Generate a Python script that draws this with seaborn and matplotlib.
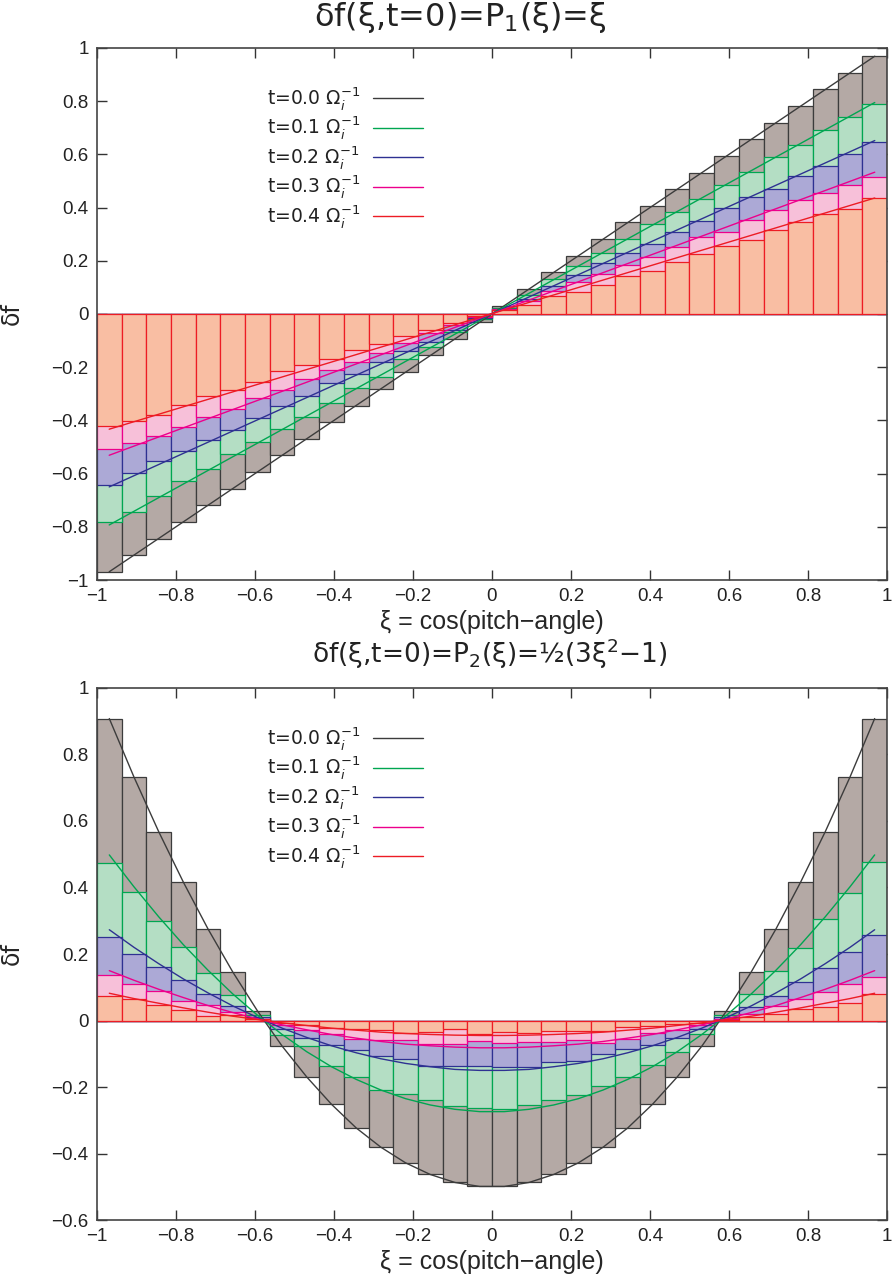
import numpy as np
import matplotlib.pyplot as plt
from matplotlib.ticker import FuncFormatter
import seaborn as sns

# 32 pitch-angle bins on [-1, 1]
n_bins = 32
bin_edges = np.linspace(-1, 1, n_bins + 1)
xi = (bin_edges[:-1] + bin_edges[1:]) / 2

times = ['0.0', '0.1', '0.2', '0.3', '0.4']

# --- panel 1 : delta f(xi, t=0) = P1(xi), histogram values
p1_t0 = [-0.969, -0.906, -0.844, -0.781, -0.719, -0.656, -0.594, -0.531,
         -0.469, -0.406, -0.344, -0.281, -0.219, -0.156, -0.094, -0.031,
         0.031, 0.094, 0.156, 0.219, 0.281, 0.344, 0.406, 0.469,
         0.531, 0.594, 0.656, 0.719, 0.781, 0.844, 0.906, 0.969]
p1_t1 = [-0.783, -0.744, -0.686, -0.627, -0.582, -0.526, -0.480, -0.432,
         -0.387, -0.333, -0.279, -0.236, -0.171, -0.123, -0.069, -0.020,
         0.024, 0.070, 0.131, 0.180, 0.231, 0.281, 0.337, 0.383,
         0.431, 0.485, 0.533, 0.589, 0.634, 0.692, 0.739, 0.790]
p1_t2 = [-0.642, -0.598, -0.552, -0.515, -0.472, -0.435, -0.392, -0.344,
         -0.307, -0.261, -0.226, -0.182, -0.138, -0.104, -0.060, -0.015,
         0.020, 0.058, 0.106, 0.146, 0.193, 0.231, 0.263, 0.307,
         0.350, 0.398, 0.440, 0.471, 0.518, 0.557, 0.601, 0.646]
p1_t3 = [-0.509, -0.485, -0.460, -0.426, -0.389, -0.359, -0.315, -0.284,
         -0.246, -0.211, -0.180, -0.148, -0.108, -0.073, -0.041, -0.010,
         0.018, 0.049, 0.088, 0.119, 0.150, 0.185, 0.214, 0.251,
         0.289, 0.310, 0.354, 0.391, 0.428, 0.455, 0.485, 0.515]
p1_t4 = [-0.421, -0.401, -0.379, -0.343, -0.307, -0.284, -0.254, -0.215,
         -0.193, -0.170, -0.136, -0.111, -0.083, -0.060, -0.033, -0.008,
         0.015, 0.033, 0.068, 0.084, 0.109, 0.143, 0.161, 0.195,
         0.225, 0.255, 0.279, 0.317, 0.347, 0.376, 0.394, 0.436]
# analytic lines (straight), end values at first / last bin centre
p1_line_x = [-0.969, 0.969]
p1_lines = [[-0.969, 0.969], [-0.793, 0.795], [-0.650, 0.652],
            [-0.531, 0.533], [-0.433, 0.436]]

# --- panel 2 : delta f(xi, t=0) = P2(xi)
p2_t0 = [0.908, 0.732, 0.568, 0.416, 0.275, 0.146, 0.029, -0.077,
         -0.170, -0.252, -0.323, -0.381, -0.428, -0.463, -0.487, -0.499,
         -0.499, -0.487, -0.463, -0.428, -0.381, -0.323, -0.252, -0.170,
         -0.077, 0.029, 0.146, 0.275, 0.416, 0.568, 0.732, 0.908]
p2_t1 = [0.474, 0.386, 0.300, 0.220, 0.143, 0.076, 0.016, -0.045,
         -0.077, -0.138, -0.170, -0.210, -0.221, -0.240, -0.256, -0.263,
         -0.265, -0.254, -0.240, -0.223, -0.198, -0.170, -0.135, -0.094,
         -0.042, 0.018, 0.080, 0.149, 0.219, 0.304, 0.382, 0.477]
p2_t2 = [0.251, 0.200, 0.162, 0.121, 0.079, 0.044, 0.010, -0.025,
         -0.052, -0.075, -0.088, -0.108, -0.115, -0.136, -0.136, -0.138,
         -0.140, -0.140, -0.125, -0.123, -0.100, -0.086, -0.073, -0.053,
         -0.025, 0.010, 0.040, 0.075, 0.115, 0.157, 0.205, 0.257]
p2_t3 = [0.137, 0.110, 0.089, 0.060, 0.046, 0.027, 0.006, -0.012,
         -0.028, -0.040, -0.056, -0.058, -0.060, -0.070, -0.072, -0.063,
         -0.068, -0.066, -0.066, -0.058, -0.068, -0.056, -0.038, -0.030,
         -0.013, 0.006, 0.020, 0.045, 0.066, 0.087, 0.109, 0.132]
p2_t4 = [0.074, 0.064, 0.046, 0.032, 0.014, 0.017, 0.004, -0.006,
         -0.012, -0.023, -0.025, -0.028, -0.038, -0.035, -0.025, -0.041,
         -0.035, -0.038, -0.031, -0.033, -0.033, -0.020, -0.016, -0.011,
         -0.006, 0.003, 0.012, 0.019, 0.035, 0.042, 0.054, 0.079]
# analytic curves at bin centres
p2_line_t0 = [0.908, 0.732, 0.568, 0.416, 0.275, 0.146, 0.029, -0.077,
              -0.170, -0.252, -0.323, -0.381, -0.428, -0.463, -0.487, -0.499,
              -0.499, -0.487, -0.463, -0.428, -0.381, -0.323, -0.252, -0.170,
              -0.077, 0.029, 0.146, 0.275, 0.416, 0.568, 0.732, 0.908]
p2_line_t1 = [0.498, 0.402, 0.312, 0.228, 0.151, 0.080, 0.016, -0.042,
              -0.094, -0.139, -0.177, -0.209, -0.235, -0.254, -0.267, -0.274,
              -0.274, -0.267, -0.254, -0.235, -0.209, -0.177, -0.139, -0.094,
              -0.042, 0.016, 0.080, 0.151, 0.228, 0.312, 0.402, 0.498]
p2_line_t2 = [0.273, 0.220, 0.171, 0.125, 0.083, 0.044, 0.009, -0.023,
              -0.051, -0.076, -0.097, -0.115, -0.129, -0.139, -0.147, -0.150,
              -0.150, -0.147, -0.139, -0.129, -0.115, -0.097, -0.076, -0.051,
              -0.023, 0.009, 0.044, 0.083, 0.125, 0.171, 0.220, 0.273]
p2_line_t3 = [0.150, 0.121, 0.094, 0.069, 0.045, 0.024, 0.005, -0.013,
              -0.028, -0.042, -0.053, -0.063, -0.071, -0.076, -0.080, -0.082,
              -0.082, -0.080, -0.076, -0.071, -0.063, -0.053, -0.042, -0.028,
              -0.013, 0.005, 0.024, 0.045, 0.069, 0.094, 0.121, 0.150]
p2_line_t4 = [0.082, 0.066, 0.052, 0.038, 0.025, 0.013, 0.003, -0.007,
              -0.015, -0.023, -0.029, -0.035, -0.039, -0.042, -0.044, -0.045,
              -0.045, -0.044, -0.042, -0.039, -0.035, -0.029, -0.023, -0.015,
              -0.007, 0.003, 0.013, 0.025, 0.038, 0.052, 0.066, 0.082]

fill_cols = ['#b4a9a5', '#b4dec4', '#aca9d6', '#f7c0d9', '#f9bea3']
line_cols = ['#3c3c3c', '#00a651', '#2e3192', '#ec008c', '#ed1c24']

sns.set_theme(style='ticks')
plt.rcParams['font.family'] = ['Liberation Sans Narrow', 'Liberation Sans', 'DejaVu Sans']
plt.rcParams['mathtext.fontset'] = 'dejavusans'
plt.rcParams['text.color'] = '#222222'

wide = ['DejaVu Sans']

fig = plt.figure(figsize=(8.92, 12.79), dpi=100)
ax1 = fig.add_axes([0.1087, 0.5465, 0.8857, 0.416])
ax2 = fig.add_axes([0.1087, 0.0461, 0.8857, 0.416])

fmt = FuncFormatter(lambda v, p: f'{round(v, 1):g}'.replace('-', '\u2212'))


def draw_panel(ax, bars, lines_x, lines, title, title_size, title_x, title_pad,
               ylim, yticks):
    for vals, fc, ec in zip(bars, fill_cols, line_cols):
        sns.barplot(x=xi, y=vals, native_scale=True, width=1.0, errorbar=None,
                    color=fc, saturation=1, edgecolor=ec, linewidth=0.9, ax=ax)
    for vals, lc in zip(lines, line_cols):
        sns.lineplot(x=lines_x, y=vals, color=lc, linewidth=1.0, sort=False,
                     legend=False, ax=ax)
    ax.set_xlim(-1, 1)
    ax.set_ylim(*ylim)
    ax.set_xticks(np.linspace(-1, 1, 11))
    ax.set_yticks(yticks)
    ax.xaxis.set_major_formatter(fmt)
    ax.yaxis.set_major_formatter(fmt)
    ax.tick_params(direction='in', top=True, right=True, length=7, width=1,
                   labelsize=13.5, colors='#333333', labelcolor='#222222', pad=6)
    for s in ax.spines.values():
        s.set_color('#444444')
        s.set_linewidth(1.2)
    ax.set_title(title, fontsize=title_size, pad=title_pad, family=wide)
    ax.title.set_x(title_x)
    ax.set_xlabel('ξ = cos(pitch\u2212angle)', fontsize=18, labelpad=3)
    ax.set_ylabel('δf', fontsize=17, labelpad=20, family=wide)

    # gnuplot-style key: label on the left, line sample on the right
    for i, (t, lc) in enumerate(zip(times, line_cols)):
        y = 0.906 - 0.0555 * i
        ax.text(0.2152, y - 0.012, f't={t} $\\Omega_i^{{-1}}$', transform=ax.transAxes,
                ha='left', va='baseline', fontsize=13.5, family=wide)
        ax.plot([0.3494, 0.4127], [y, y], transform=ax.transAxes, color=lc,
                linewidth=1.0)


draw_panel(ax1, [p1_t0, p1_t1, p1_t2, p1_t3, p1_t4], p1_line_x, p1_lines,
           'δf(ξ,t=0)=P$_1$(ξ)=ξ', 23, 0.4595, 16, (-1, 1),
           np.linspace(-1, 1, 11))
draw_panel(ax2, [p2_t0, p2_t1, p2_t2, p2_t3, p2_t4], xi,
           [p2_line_t0, p2_line_t1, p2_line_t2, p2_line_t3, p2_line_t4],
           'δf(ξ,t=0)=P$_2$(ξ)=½(3ξ$^2$\u22121)', 19, 0.497, 18, (-0.6, 1),
           np.linspace(-0.6, 1, 9))

fig.savefig('out.png', dpi=100)
